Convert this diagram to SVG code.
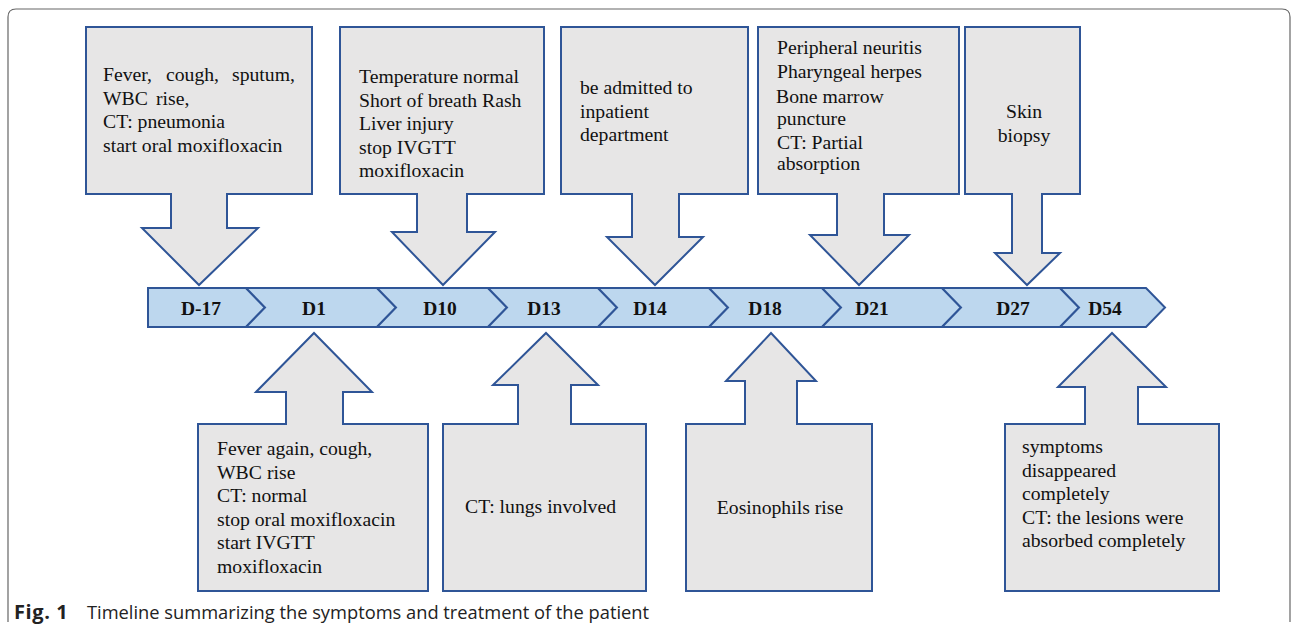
<svg xmlns="http://www.w3.org/2000/svg" width="1295" height="629" viewBox="0 0 1295 629">
<style>
.co{fill:#e7e6e6;stroke:#2f5597;stroke-width:2;stroke-linejoin:miter}
.seg{fill:#bdd7ee;stroke:#2f5597;stroke-width:2;stroke-linejoin:miter}
.t{font-family:"Liberation Serif","Times New Roman",serif;font-size:19.7px;fill:#111}
.lbl{font-family:"Liberation Serif","Times New Roman",serif;font-size:19.5px;font-weight:bold;fill:#111;text-anchor:middle}
.cap{font-family:"Open Sans","Noto Sans",sans-serif;font-size:18.3px;fill:#222}
</style>
<rect width="1295" height="629" fill="#fff"/>
<path d="M8,622 V17 Q8,9 16,9 H1282 Q1290,9 1290,17 V622" fill="none" stroke="#666" stroke-width="1.2"/>

<g id="timeline">
<polygon class="seg" points="148,288 246,288 265,307.5 246,327 148,327"/>
<polygon class="seg" points="246,288 377,288 396,307.5 377,327 246,327 265,307.5"/>
<polygon class="seg" points="377,288 488,288 507,307.5 488,327 377,327 396,307.5"/>
<polygon class="seg" points="488,288 598,288 617,307.5 598,327 488,327 507,307.5"/>
<polygon class="seg" points="598,288 709,288 728,307.5 709,327 598,327 617,307.5"/>
<polygon class="seg" points="709,288 822,288 841,307.5 822,327 709,327 728,307.5"/>
<polygon class="seg" points="822,288 942,288 961,307.5 942,327 822,327 841,307.5"/>
<polygon class="seg" points="942,288 1060,288 1079,307.5 1060,327 942,327 961,307.5"/>
<polygon class="seg" points="1060,288 1146,288 1165,307.5 1146,327 1060,327 1079,307.5"/>
<text class="lbl" x="201" y="314.5">D-17</text>
<text class="lbl" x="314" y="314.5">D1</text>
<text class="lbl" x="440" y="314.5">D10</text>
<text class="lbl" x="544" y="314.5">D13</text>
<text class="lbl" x="650" y="314.5">D14</text>
<text class="lbl" x="765" y="314.5">D18</text>
<text class="lbl" x="872" y="314.5">D21</text>
<text class="lbl" x="1013" y="314.5">D27</text>
<text class="lbl" x="1105" y="314.5">D54</text>
</g>

<g id="callout-d-17">
<path class="co" d="M86,27 H312 V194 H227 V228 H258 L199,285 L142,228 H171 V194 H86 Z"/>
<text class="t"><tspan x="103" y="81">Fever,</tspan><tspan x="166" y="81">cough,</tspan><tspan x="232" y="81">sputum,</tspan><tspan x="103" y="104.5">WBC</tspan><tspan x="156" y="104.5">rise,</tspan><tspan x="103" y="128">CT: pneumonia</tspan><tspan x="103" y="151.5">start oral moxifloxacin</tspan></text>
</g>

<g id="callout-d10">
<path class="co" d="M340,27 H544 V194 H467 V232 H495 L443,285 L392,232 H417 V194 H340 Z"/>
<text class="t"><tspan x="359" y="83">Temperature normal</tspan><tspan x="359" y="106.5">Short of breath Rash</tspan><tspan x="359" y="130">Liver injury</tspan><tspan x="359" y="153.5">stop IVGTT</tspan><tspan x="359" y="177">moxifloxacin</tspan></text>
</g>

<g id="callout-d14">
<path class="co" d="M561,27 H748 V194 H679 V237 H703 L655,285 L607,237 H632 V194 H561 Z"/>
<text class="t"><tspan x="580" y="94">be admitted to</tspan><tspan x="580" y="117.5">inpatient</tspan><tspan x="580" y="141">department</tspan></text>
</g>

<g id="callout-d21">
<path class="co" d="M758,27 H959 V194 H884 V235 H909 L859,285 L810,235 H837 V194 H758 Z"/>
<text class="t"><tspan x="777" y="54">Peripheral neuritis</tspan><tspan x="777" y="78">Pharyngeal herpes</tspan><tspan x="776" y="103">Bone marrow</tspan><tspan x="777" y="125">puncture</tspan><tspan x="777" y="149">CT: Partial</tspan><tspan x="777" y="170">absorption</tspan></text>
</g>

<g id="callout-d27">
<path class="co" d="M965,27 H1080 V194 H1042 V253 H1060 L1027,285 L995,253 H1012 V194 H965 Z"/>
<text class="t" text-anchor="middle"><tspan x="1024" y="118">Skin</tspan><tspan x="1024" y="142">biopsy</tspan></text>
</g>

<g id="callout-d1">
<path class="co" d="M198,591 H428 V424 H343 V392 H372 L314,333 L256,392 H286 V424 H198 Z"/>
<text class="t"><tspan x="217" y="455">Fever again, cough,</tspan><tspan x="217" y="478.5">WBC</tspan><tspan x="267" y="478.5">rise</tspan><tspan x="217" y="502">CT: normal</tspan><tspan x="217" y="525.5">stop oral moxifloxacin</tspan><tspan x="217" y="549">start IVGTT</tspan><tspan x="217" y="572.5">moxifloxacin</tspan></text>
</g>

<g id="callout-d13">
<path class="co" d="M443,591 H646 V424 H571 V385 H598 L546,333 L493,385 H518 V424 H443 Z"/>
<text class="t" x="465" y="513">CT: lungs involved</text>
</g>

<g id="callout-d18">
<path class="co" d="M686,591 H872 V424 H797 V381 H816 L771,333 L726,381 H745 V424 H686 Z"/>
<text class="t" text-anchor="middle" x="780" y="514">Eosinophils rise</text>
</g>

<g id="callout-d54">
<path class="co" d="M1005,591 H1219 V424 H1138 V387 H1166 L1112,333 L1058,387 H1085 V424 H1005 Z"/>
<text class="t"><tspan x="1022" y="453">symptoms</tspan><tspan x="1022" y="476.5">disappeared</tspan><tspan x="1022" y="500">completely</tspan><tspan x="1022" y="523.5">CT: the lesions were</tspan><tspan x="1022" y="547">absorbed completely</tspan></text>
</g>

<g id="caption">
<text class="cap" x="14" y="619"><tspan font-weight="bold" font-size="20px" letter-spacing="0.6">Fig. 1</tspan><tspan x="87">Timeline summarizing the symptoms and treatment of the patient</tspan></text>
</g>
</svg>
